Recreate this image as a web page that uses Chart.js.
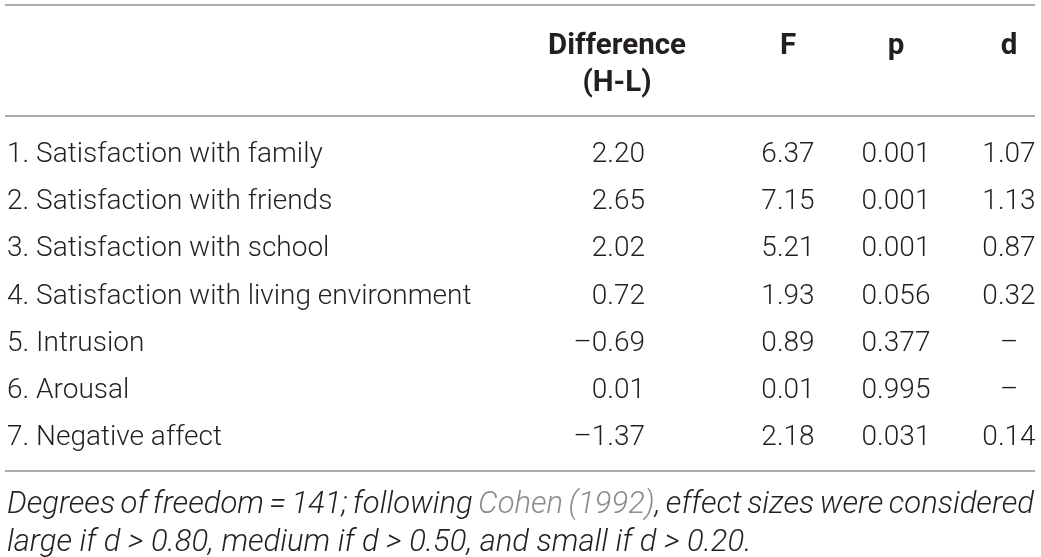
<!DOCTYPE html>
<html>
<head>
<meta charset="utf-8">
<script src="https://cdn.jsdelivr.net/npm/chart.js@4.4.1/dist/chart.umd.min.js"></script>
<style>
  html, body { margin: 0; padding: 0; background: #fff; }
  #wrap { width: 1041px; height: 557px; position: relative; }
</style>
</head>
<body>
<div id="wrap"><canvas id="tableChart"></canvas></div>
<script>
// table contents
const rowLabels = [
  '1. Satisfaction with family',
  '2. Satisfaction with friends',
  '3. Satisfaction with school',
  '4. Satisfaction with living environment',
  '5. Intrusion',
  '6. Arousal',
  '7. Negative affect'
];
const diffValues = [2.20, 2.65, 2.02, 0.72, -0.69, 0.01, -1.37];
const fValues = [6.37, 7.15, 5.21, 1.93, 0.89, 0.01, 2.18];
const pValues = [0.001, 0.001, 0.001, 0.056, 0.377, 0.995, 0.031];
const dValues = [1.07, 1.13, 0.87, 0.32, null, null, 0.14];
const headerLabels = [['Difference', '(H-L)'], ['F'], ['p'], ['d']];
const noteLine1 = 'Degrees of freedom = 141; following {Cohen} {(1992)}, effect sizes were considered';
const noteLine2 = 'large if d > 0.80, medium if d > 0.50, and small if d > 0.20.';

// layout (column anchors on the x scale, in px of a 0..1041 scale)
const colX = { label: 7, diff: 645, f: 788, p: 896, d: 1009 };
const headX = [617, 788, 896, 1009];
const INK = '#231f20';
const RULE = '#8f8f8f';
const LINK = '#8c8c8c';
const FONT = 'Roboto';
const NUDGE = 2; // glyph centre vs. textBaseline middle

const fmt = (v, n) => v === null ? '\u2013' : (v < 0 ? '\u2013' : '') + Math.abs(v).toFixed(n);

function column(key, texts, align) {
  return {
    data: rowLabels.map((r, i) => ({ x: colX[key], y: r })),
    texts: texts,
    align: align,
    pointRadius: 0,
    showLine: false
  };
}

const tablePlugin = {
  id: 'tableText',
  afterDatasetsDraw(chart) {
    const ctx = chart.ctx;
    const xs = chart.scales.x;
    const ys = chart.scales.y;
    ctx.save();
    ctx.textBaseline = 'middle';
    ctx.fillStyle = INK;
    ctx.font = '300 28px ' + FONT;
    chart.data.datasets.forEach((ds, di) => {
      const meta = chart.getDatasetMeta(di);
      ctx.textAlign = ds.align;
      meta.data.forEach((el, i) => ctx.fillText(ds.texts[i], el.x, el.y + NUDGE));
    });

    // header
    const top = ys.getPixelForValue(0);
    ctx.font = 'bold 29.5px ' + FONT;
    ctx.textAlign = 'center';
    headerLabels.forEach((lines, i) => {
      lines.forEach((t, j) => ctx.fillText(t, xs.getPixelForValue(headX[i]), top - 108 + NUDGE + j * 37));
    });

    // rules
    ctx.strokeStyle = RULE;
    ctx.lineWidth = 1.5;
    const x0 = xs.getPixelForValue(5), x1 = xs.getPixelForValue(1035);
    [top - 148, top - 37, ys.getPixelForValue(rowLabels.length - 1) + 35].forEach(y => {
      ctx.beginPath(); ctx.moveTo(x0, y); ctx.lineTo(x1, y); ctx.stroke();
    });

    // footnote
    const base = ys.getPixelForValue(rowLabels.length - 1) + NUDGE + 1;
    ctx.font = 'italic 300 31px ' + FONT;
    ctx.textAlign = 'left';
    const words = noteLine1.split(' ').map(w => w.split(/(\{[^}]*\})/).filter(s => s).map(s =>
      s[0] === '{' ? { t: s.slice(1, -1), c: LINK } : { t: s, c: INK }));
    const wWidth = w => w.reduce((a, p) => a + ctx.measureText(p.t).width, 0);
    const total = words.reduce((a, w) => a + wWidth(w), 0);
    const left = xs.getPixelForValue(colX.label), right = xs.getPixelForValue(1034);
    const gap = (right - left - total) / (words.length - 1);
    let x = left;
    words.forEach(w => {
      w.forEach(p => { ctx.fillStyle = p.c; ctx.fillText(p.t, x, base + 66); x += ctx.measureText(p.t).width; });
      x += gap;
    });
    ctx.fillStyle = INK;
    ctx.fillText(noteLine2, left, base + 104);
    ctx.restore();
  }
};

new Chart(document.getElementById('tableChart'), {
  type: 'scatter',
  data: {
    labels: rowLabels,
    datasets: [
      column('label', rowLabels, 'left'),
      column('diff', diffValues.map(v => fmt(v, 2)), 'right'),
      column('f', fValues.map(v => fmt(v, 2)), 'center'),
      column('p', pValues.map(v => fmt(v, 3)), 'center'),
      column('d', dValues.map(v => fmt(v, 2)), 'center')
    ]
  },
  options: {
    responsive: true,
    maintainAspectRatio: false,
    animation: false,
    layout: { padding: { top: 129.4, bottom: 97.4, left: 0, right: 0 } },
    scales: {
      x: { type: 'linear', min: 0, max: 1041, display: false },
      y: { type: 'category', labels: rowLabels, offset: true, display: false }
    },
    plugins: { legend: { display: false }, tooltip: { enabled: false } }
  },
  plugins: [tablePlugin]
});
</script>
</body>
</html>
